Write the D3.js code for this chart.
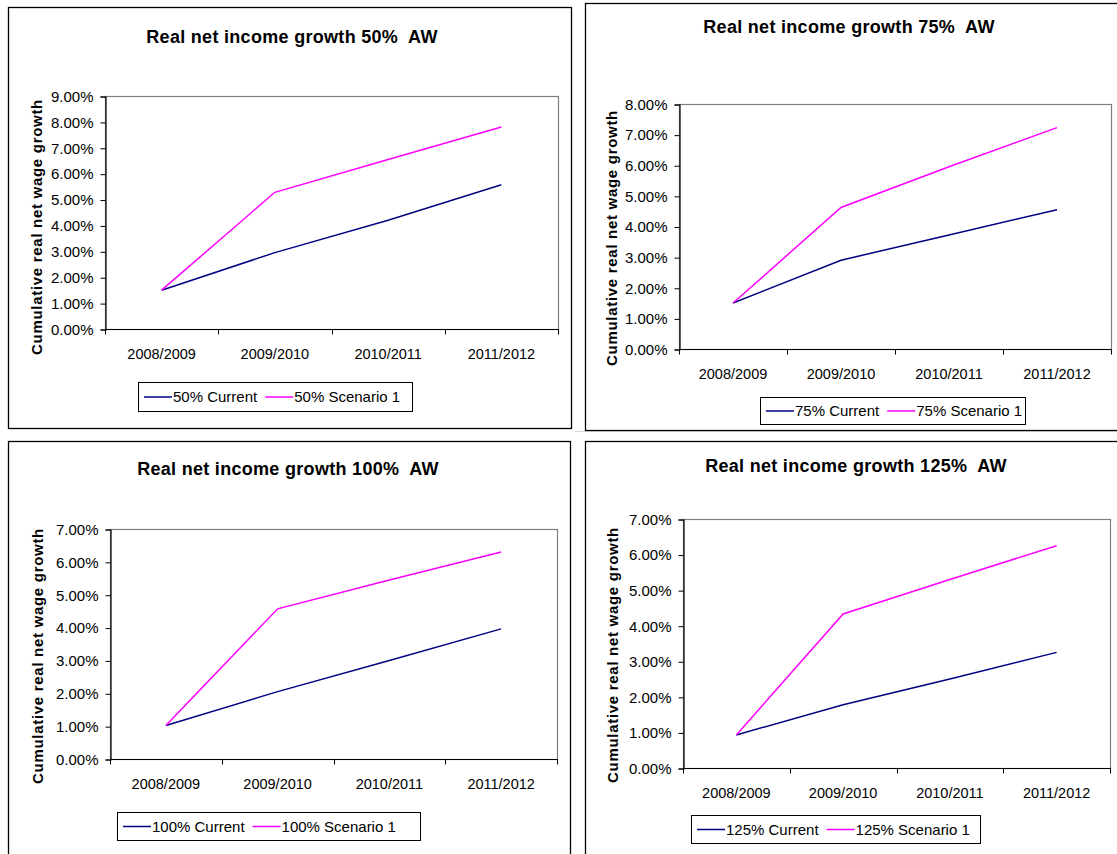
<!DOCTYPE html>
<html>
<head>
<meta charset="utf-8">
<script src="https://cdn.jsdelivr.net/npm/d3@7"></script>
<style>
  html, body { margin: 0; padding: 0; background: #ffffff; }
  svg { display: block; }
  text { font-family: "Liberation Sans", Arial, sans-serif; fill: #000; white-space: pre; }
</style>
</head>
<body>
<svg id="chart" width="1117" height="854"></svg>
<script>
// Fiscal years on the category axis
const categories = ["2008/2009", "2009/2010", "2010/2011", "2011/2012"];

// Earnings levels, as a share of average wage (AW)
const levels = ["50%", "75%", "100%", "125%"];

// Upper bound of each panel's value axis
const yMaxima = [0.09, 0.08, 0.07, 0.07];

// Cumulative real net wage growth, current system
const current50  = [0.0150, 0.0295, 0.0420, 0.0557];
const current75  = [0.0150, 0.0290, 0.0372, 0.0455];
const current100 = [0.0102, 0.0205, 0.0300, 0.0396];
const current125 = [0.0093, 0.0178, 0.0250, 0.0325];

// Cumulative real net wage growth, scenario 1
const scenario50  = [0.0150, 0.0528, 0.0655, 0.0780];
const scenario75  = [0.0150, 0.0462, 0.0595, 0.0723];
const scenario100 = [0.0102, 0.0457, 0.0545, 0.0630];
const scenario125 = [0.0093, 0.0433, 0.0530, 0.0625];

const currentSeries  = [current50, current75, current100, current125];
const scenarioSeries = [scenario50, scenario75, scenario100, scenario125];

// Panel geometry (frame, plot area, title, axis label, legend box)
const layouts = [
  { frame: [8, 7, 563, 421],   plot: [105, 96, 558, 329],   titleX: 292, titleY: 43,
    labelX: 42,  labelY: 227, legend: [138, 382, 274, 29] },
  { frame: [585, 3, 540, 427], plot: [679, 104, 1111, 349], titleX: 849, titleY: 33,
    labelX: 617, labelY: 238, legend: [760, 397, 265, 27] },
  { frame: [8, 441, 562, 420], plot: [110, 529, 557, 759],  titleX: 288, titleY: 475,
    labelX: 43,  labelY: 656, legend: [117, 812, 303, 28] },
  { frame: [585, 441, 540, 420], plot: [683, 519, 1110, 768], titleX: 856, titleY: 472,
    labelX: 618, labelY: 655, legend: [691, 815, 289, 28] }
];

const colCurrent = "#000080";
const colScenario = "#ff00ff";

const svg = d3.select("#chart");

// thin grey separator above the lower-right panel
svg.append("line")
  .attr("x1", 575).attr("x2", 1117).attr("y1", 431.5).attr("y2", 431.5)
  .attr("stroke", "#d8d8d8").attr("stroke-width", 1);

levels.forEach((lvl, i) => {
  const L = layouts[i];
  const g = svg.append("g");
  const [fx, fy, fw, fh] = L.frame;
  const [pl, pt, pr, pb] = L.plot;

  // outer chart frame
  g.append("rect")
    .attr("x", fx + 0.5).attr("y", fy + 0.5)
    .attr("width", fw).attr("height", fh)
    .attr("fill", "#fff").attr("stroke", "#000").attr("stroke-width", 1.3);

  // title
  g.append("text")
    .attr("x", L.titleX).attr("y", L.titleY)
    .attr("text-anchor", "middle")
    .style("font-weight", "bold").style("font-size", "18px")
    .style("letter-spacing", "0.3px")
    .text(`Real net income growth ${lvl}  AW`);

  const x = d3.scaleBand().domain(categories).range([pl, pr]).padding(0);
  const y = d3.scaleLinear().domain([0, yMaxima[i]]).range([pb, pt]);

  // plot area border (grey top & right)
  g.append("rect")
    .attr("x", pl + 0.5).attr("y", pt + 0.5)
    .attr("width", pr - pl).attr("height", pb - pt)
    .attr("fill", "none").attr("stroke", "#808080").attr("stroke-width", 1.2);

  // value axis
  const yTicks = d3.range(0, Math.round(yMaxima[i] * 100) + 1).map(v => v / 100);
  const yAxis = d3.axisLeft(y).tickValues(yTicks).tickFormat(d3.format(".2%"))
    .tickSize(5).tickPadding(7);
  const ya = g.append("g").attr("transform", `translate(${pl + 0.5},0.5)`).call(yAxis);
  ya.select(".domain").attr("stroke", "#000").attr("stroke-width", 1.2);
  ya.selectAll(".tick line").attr("stroke", "#000");
  ya.selectAll(".tick text").style("font-size", "15px").attr("fill", "#000")
    .style("font-family", '"Liberation Sans", Arial, sans-serif');

  // category axis with ticks on band boundaries
  const xa = g.append("g").attr("transform", `translate(0,${pb + 0.5})`);
  xa.append("line").attr("x1", pl).attr("x2", pr + 1).attr("y1", 0).attr("y2", 0)
    .attr("stroke", "#000").attr("stroke-width", 1.2);
  const bounds = categories.map(c => x(c)).concat([x(categories[categories.length - 1]) + x.bandwidth()]);
  xa.selectAll("line.tk").data(bounds).join("line").attr("class", "tk")
    .attr("x1", d => Math.round(d) + 0.5).attr("x2", d => Math.round(d) + 0.5)
    .attr("y1", 0).attr("y2", 5).attr("stroke", "#000");
  xa.selectAll("text").data(categories).join("text")
    .attr("x", d => x(d) + x.bandwidth() / 2)
    .attr("y", 29)
    .attr("text-anchor", "middle")
    .style("font-size", "14.5px")
    .text(d => d);

  // axis title
  g.append("text")
    .attr("transform", `translate(${L.labelX},${L.labelY}) rotate(-90)`)
    .attr("text-anchor", "middle")
    .style("font-weight", "bold").style("font-size", "15px")
    .style("letter-spacing", "0.7px")
    .text("Cumulative real net wage growth");

  // series lines
  const line = d3.line()
    .x((d, k) => x(categories[k]) + x.bandwidth() / 2)
    .y(d => y(d));
  g.append("path").datum(currentSeries[i])
    .attr("d", line).attr("fill", "none")
    .attr("stroke", colCurrent).attr("stroke-width", 1.5);
  g.append("path").datum(scenarioSeries[i])
    .attr("d", line).attr("fill", "none")
    .attr("stroke", colScenario).attr("stroke-width", 1.5);

  // legend
  const [lx, ly, lw, lh] = L.legend;
  const lg = g.append("g");
  lg.append("rect")
    .attr("x", lx + 0.5).attr("y", ly + 0.5).attr("width", lw).attr("height", lh)
    .attr("fill", "#fff").attr("stroke", "#000").attr("stroke-width", 1);
  const items = [
    { label: `${lvl} Current`, color: colCurrent },
    { label: `${lvl} Scenario 1`, color: colScenario }
  ];
  let cx = lx + 6;
  const cy = ly + lh / 2 + 0.5;
  items.forEach(it => {
    lg.append("line").attr("x1", cx).attr("x2", cx + 28).attr("y1", cy).attr("y2", cy)
      .attr("stroke", it.color).attr("stroke-width", 1.5);
    const t = lg.append("text").attr("x", cx + 29).attr("y", cy + 5)
      .style("font-size", "15px").text(it.label);
    cx += 29 + t.node().getComputedTextLength() + 8;
  });
});
</script>
</body>
</html>
